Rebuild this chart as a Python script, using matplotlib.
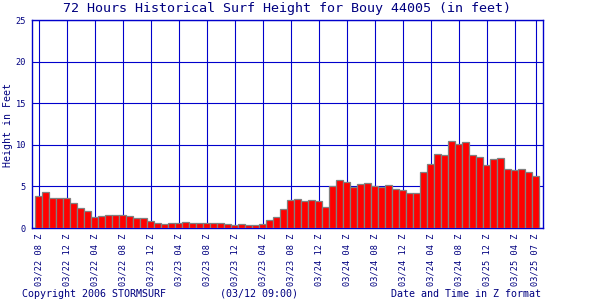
import numpy as np
import matplotlib
matplotlib.use("Agg")
import matplotlib.pyplot as plt

# surf height per hour, 03/22 08Z .. 03/25 07Z (feet)
heights = [3.8, 4.3, 3.56, 3.56, 3.56, 3.0, 2.36, 2.04, 1.28, 1.4,
           1.52, 1.52, 1.52, 1.4, 1.16, 1.16, 0.84, 0.56, 0.44, 0.56,
           0.56, 0.72, 0.56, 0.56, 0.56, 0.56, 0.56, 0.44, 0.32, 0.44,
           0.32, 0.32, 0.44, 0.92, 1.28, 2.24, 3.32, 3.44, 3.2, 3.32,
           3.2, 2.48, 5.0, 5.72, 5.48, 4.88, 5.24, 5.36, 5.0, 4.88,
           5.12, 4.64, 4.52, 4.16, 4.16, 6.68, 7.64, 8.84, 8.72, 10.4,
           10.04, 10.28, 8.72, 8.48, 7.52, 8.24, 8.36, 7.04, 6.92, 7.04,
           6.68, 6.2]

tick_hours = [0, 4, 8, 12, 16, 20, 24, 28, 32, 36, 40, 44, 48, 52, 56, 60, 64, 68, 71]
tick_labels = ["03/22 08 Z", "03/22 12 Z", "03/22 04 Z", "03/22 08 Z",
               "03/23 12 Z", "03/23 04 Z", "03/23 08 Z", "03/23 12 Z",
               "03/23 04 Z", "03/23 08 Z", "03/24 12 Z", "03/24 04 Z",
               "03/24 08 Z", "03/24 12 Z", "03/24 04 Z", "03/24 08 Z",
               "03/25 12 Z", "03/25 04 Z", "03/25 07 Z"]
y_ticks = [0, 5, 10, 15, 20, 25]

grid_col = "#0000cc"
text_col = "#000080"
mono = "DejaVu Sans Mono"

fig = plt.figure(figsize=(6, 3), dpi=100)
ax = fig.add_axes([31.5 / 600, 72 / 300, 511 / 600, 208 / 300])

hrs = np.arange(len(heights))
ax.bar(hrs, heights, width=0.86, color="#ff0000", edgecolor="#808080",
       linewidth=0.9, zorder=3)

ax.set_xlim(-1, 72)
ax.set_ylim(0, 25)
ax.set_xticks(tick_hours)
ax.set_xticklabels(tick_labels, rotation=90, family=mono, fontsize=6.2,
                   color=text_col)
ax.set_yticks(y_ticks)
ax.set_yticklabels([str(v) for v in y_ticks], family=mono, fontsize=6.2,
                   color=text_col)
ax.tick_params(length=0, pad=4)
ax.grid(True, color=grid_col, linewidth=0.8, zorder=0)
ax.set_axisbelow(True)
for s in ax.spines.values():
    s.set_color(grid_col)
    s.set_linewidth(1.0)

# y label placed by hand, like the original image
fig.text(8.5 / 600, 1 - 125 / 300, "Height in Feet", rotation=90,
         ha="center", va="center", family=mono, fontsize=7.1, color=text_col)

fig.text(287 / 600, 1 - 8.5 / 300,
         "72 Hours Historical Surf Height for Bouy 44005 (in feet)",
         ha="center", va="center", family=mono, fontsize=9.6, color=text_col)
fig.text(22 / 600, 1 - 294 / 300, "Copyright 2006 STORMSURF",
         ha="left", va="center", family=mono, fontsize=7.2, color=text_col)
fig.text(220 / 600, 1 - 294 / 300, "(03/12 09:00)",
         ha="left", va="center", family=mono, fontsize=7.2, color=text_col)
fig.text(541 / 600, 1 - 294 / 300, "Date and Time in Z format",
         ha="right", va="center", family=mono, fontsize=7.2, color=text_col)

fig.savefig("out.png", dpi=100)
